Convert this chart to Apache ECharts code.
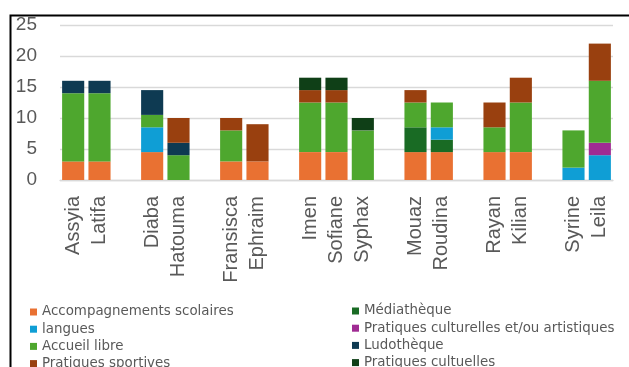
<!DOCTYPE html>
<html>
<head>
<meta charset="utf-8">
<script src="https://cdn.jsdelivr.net/npm/echarts@6/dist/echarts.min.js"></script>
<style>
html,body{margin:0;padding:0;background:#fff;}
#c{width:629px;height:367px;}
</style>
</head>
<body>
<div id="c"></div>
<script>
const categories = ['Assyia','Latifa','','Diaba','Hatouma','','Fransisca','Ephraim','','Imen','Sofiane','Syphax','','Mouaz','Roudina','','Rayan','Kilian','','Syrine','Leila'];
const accompagnements = [3,3,null,4.5,0,null,3,3,null,4.5,4.5,0,null,4.5,4.5,null,4.5,4.5,null,0,0];
const mediatheque     = [0,0,null,0,0,null,0,0,null,0,0,0,null,4,2,null,0,0,null,0,0];
const langues         = [0,0,null,4,0,null,0,0,null,0,0,0,null,0,2,null,0,0,null,2,4];
const artistiques     = [0,0,null,0,0,null,0,0,null,0,0,0,null,0,0,null,0,0,null,0,2];
const accueilLibre    = [11,11,null,2,4,null,5,0,null,8,8,8,null,4,4,null,4,8,null,6,10];
const ludotheque      = [2,2,null,4,2,null,0,0,null,0,0,0,null,0,0,null,0,0,null,0,0];
const sportives       = [0,0,null,0,4,null,2,6,null,2,2,0,null,2,0,null,4,4,null,0,6];
const cultuelles      = [0,0,null,0,0,null,0,0,null,2,2,2,null,0,0,null,0,0,null,0,0];
const yTicks = {min:0, max:25, interval:5};

const seriesDefs = [
  ['Accompagnements scolaires', accompagnements, '#E97132'],
  ['Médiathèque', mediatheque, '#196B24'],
  ['langues', langues, '#0F9ED5'],
  ['Pratiques culturelles et/ou artistiques', artistiques, '#A02B93'],
  ['Accueil libre', accueilLibre, '#4EA72E'],
  ['Ludothèque', ludotheque, '#0E3A52'],
  ['Pratiques sportives', sportives, '#99400F'],
  ['Pratiques cultuelles', cultuelles, '#0F3F17']
];

const chart = echarts.init(document.getElementById('c'), null, {renderer:'canvas'});
const legendText = {fontFamily:'DejaVu Sans', fontSize:13.4, color:'#595959', lineHeight:14};
chart.setOption({
  animation:false,
  backgroundColor:'#ffffff',
  graphic:[{type:'rect', left:8, top:13, shape:{width:700, height:400}, style:{fill:'none', stroke:'#000', lineWidth:2}, z:-1}],
  grid:{left:60, right:16, top:25, bottom:187},
  legend:[
    {data:['Accompagnements scolaires','langues','Accueil libre','Pratiques sportives'], orient:'vertical', left:30, top:305, height:120, width:300, padding:0, itemGap:3.2, itemWidth:7, itemHeight:7, icon:'rect', textStyle:legendText},
    {data:['Médiathèque','Pratiques culturelles et/ou artistiques','Ludothèque','Pratiques cultuelles'], orient:'vertical', left:352, top:304, height:120, width:300, padding:0, itemGap:3.2, itemWidth:7, itemHeight:7, icon:'rect', textStyle:legendText}
  ],
  xAxis:{type:'category', data:categories,
    axisLine:{lineStyle:{color:'#d9d9d9', width:1.3}}, axisTick:{show:false},
    axisLabel:{rotate:90, interval:0, margin:16, fontFamily:'Liberation Sans', fontSize:20, color:'#595959'}},
  yAxis:{type:'value', min:yTicks.min, max:yTicks.max, interval:yTicks.interval,
    axisLine:{show:false}, axisTick:{show:false},
    splitLine:{lineStyle:{color:'#d9d9d9', width:1.3}},
    axisLabel:{margin:23, fontFamily:'Liberation Sans', fontSize:19, color:'#595959'}},
  series: seriesDefs.map(([name, data, color]) => ({
    name, type:'bar', stack:'total', data, barCategoryGap:'16%',
    itemStyle:{color}
  }))
});
</script>
</body>
</html>
